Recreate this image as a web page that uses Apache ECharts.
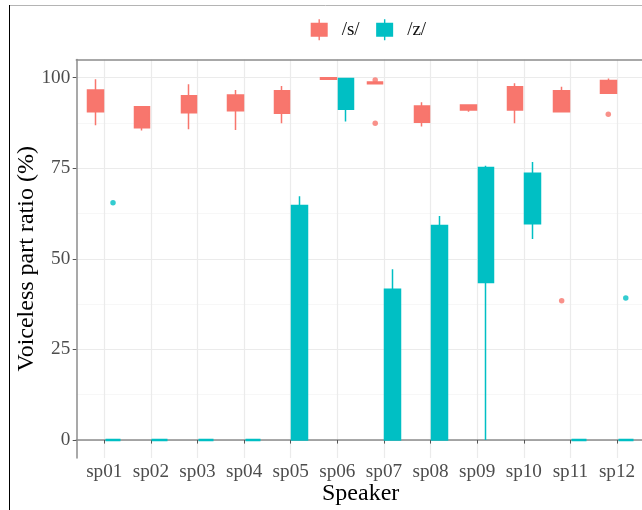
<!DOCTYPE html>
<html>
<head>
<meta charset="utf-8">
<script src="https://cdn.jsdelivr.net/npm/echarts@6/dist/echarts.min.js"></script>
<style>html,body{margin:0;padding:0;background:#fff;}#chart{width:642px;height:510px;}</style>
</head>
<body>
<div id="chart"></div>
<script>
// ---- data ----
const categories = ['sp01','sp02','sp03','sp04','sp05','sp06','sp07','sp08','sp09','sp10','sp11','sp12'];
const yTicks = [0, 25, 50, 75, 100];
const yMinorTicks = [12.5, 37.5, 62.5, 87.5];

// /s/ : lower whisker, Q1, Q3, upper whisker
const sLow  = [86.9, 85.4, 85.8, 85.6, 87.4, 99.5, 98.2, 86.5, 90.6, 87.4, 90.6, 95.7];
const sQ1   = [90.6, 86.2, 90.3, 90.9, 90.2, 99.6, 98.3, 87.7, 91.1, 91.1, 90.6, 95.7];
const sQ3   = [96.6, 92.0, 95.0, 95.2, 96.4, 100.0, 98.8, 92.2, 92.5, 97.5, 96.4, 99.2];
const sHigh = [99.6, 92.2, 98.2, 96.6, 97.7, 100.0, 98.9, 93.2, 92.7, 98.5, 97.5, 99.8];
const sOutliers = [['sp07', 87.4], ['sp07', 99.4], ['sp11', 38.4], ['sp12', 89.9]];

// /z/
const zLow  = [0, 0, 0, 0, 0, 87.9, 0, 0, 0, 55.5, 0, 0];
const zQ1   = [0, 0, 0, 0, 0, 91.3, 0, 0, 43.5, 59.7, 0, 0];
const zQ3   = [0, 0, 0, 0, 64.7, 99.8, 41.6, 59.2, 75.2, 73.6, 0, 0];
const zHigh = [0, 0, 0, 0, 67.3, 99.8, 47.1, 61.8, 75.7, 76.7, 0, 0];
const zOutliers = [['sp01', 65.5], ['sp12', 39.2]];

// ---- build ----
const DODGE = 0.1875;           // ggplot position_dodge(0.75) / 4
const RED = '#F8766D', TEAL = '#00BFC4';
const FONT = '"Liberation Serif", "Times New Roman", serif';

function boxes(low, q1, q3, high, shift, color) {
  return categories.map((c, i) => {
    const item = { value: [i + 1 + shift, q1[i], q3[i], low[i], high[i]] };
    if (q1[i] === q3[i]) {
      item.itemStyle = { borderWidth: 2.5, borderColor: color, borderColor0: color, borderColorDoji: color };
    }
    return item;
  });
}
function outs(list, shift) {
  return list.map(([c, v]) => [categories.indexOf(c) + 1 + shift, v]);
}
function candle(name, color, data) {
  return {
    type: 'candlestick', name: name, xAxisIndex: 0, yAxisIndex: 0,
    data: data, barWidth: 16,
    itemStyle: { color: color, color0: color, borderColor: color, borderColor0: color,
                 borderColorDoji: color, borderWidth: 1.5 },
    emphasis: { disabled: true }
  };
}
function scat(name, color, data) {
  return { type: 'scatter', name: name, xAxisIndex: 0, yAxisIndex: 0, data: data,
           symbolSize: 5.5, itemStyle: { color: color }, emphasis: { disabled: true } };
}

const chart = echarts.init(document.getElementById('chart'), null, { renderer: 'canvas' });
const gridColor = '#EBEBEB', axisGray = '#8c8c8c';
chart.setOption({
  animation: false,
  backgroundColor: '#fff',
  textStyle: { fontFamily: FONT },
  legend: {
    data: ['/s/', '/z/'], left: 310.7, top: 19.3, padding: 0,
    itemWidth: 17, itemHeight: 21, itemGap: 16.5,
    icon: 'path://M0,3.5H17V17.5H0Z M7.8,0H9.2V21H7.8Z',
    itemStyle: { borderWidth: 0 },
    textStyle: { fontFamily: FONT, fontSize: 19, color: '#111', padding: [0, 0, 0, 9] }
  },
  grid: { left: 76.3, top: 59.6, width: 568.7, height: 398.5, containLabel: false, outerBoundsMode: 'none' },
  xAxis: [{
    type: 'value', min: 0.4, max: 12.6, position: 'bottom',
    axisLine: { show: true, lineStyle: { color: axisGray, width: 1.5 } },
    axisTick: { show: true, length: 3.6, customValues: categories.map((c, i) => i + 1), lineStyle: { color: '#555', width: 1 } },
    axisLabel: { show: true, customValues: categories.map((c, i) => i + 1), margin: 4,
                 formatter: v => categories[Math.round(v) - 1] || '',
                 fontFamily: FONT, fontSize: 19.2, color: '#4D4D4D' },
    splitLine: { show: true, lineStyle: { color: gridColor, width: 1.2 } },
    name: 'Speaker', nameLocation: 'middle', nameGap: 24, nameMoveOverlap: false,
    nameTextStyle: { fontFamily: FONT, fontSize: 24, color: '#000' }
  }, {
    type: 'value', min: 0.4, max: 12.6, position: 'top',
    axisLine: { show: true, onZero: false, lineStyle: { color: axisGray, width: 1.5 } },
    axisTick: { show: false }, axisLabel: { show: false }, splitLine: { show: false }
  }],
  yAxis: [{
    type: 'value', min: -5, max: 105, position: 'left',
    axisLine: { show: true, onZero: false, lineStyle: { color: axisGray, width: 1.5 } },
    axisTick: { show: true, length: 3.6, customValues: yTicks, lineStyle: { color: '#555', width: 1 } },
    axisLabel: { show: true, customValues: yTicks, margin: 6, fontFamily: FONT, fontSize: 19.2, color: '#4D4D4D' },
    splitLine: { show: true, lineStyle: { color: gridColor, width: 1.2 } },
    name: 'Voiceless part ratio (%)', nameLocation: 'middle', nameGap: 38, nameMoveOverlap: false,
    nameTextStyle: { fontFamily: FONT, fontSize: 24, color: '#000' }
  }, {
    type: 'value', min: -5, max: 105, position: 'left',
    axisLine: { show: false }, axisLabel: { show: false },
    axisTick: { show: false, customValues: yMinorTicks },
    splitLine: { show: true, lineStyle: { color: '#F5F5F5', width: 0.8 } }
  }],
  series: [
    candle('/s/', RED, boxes(sLow, sQ1, sQ3, sHigh, -DODGE, RED)),
    candle('/z/', TEAL, boxes(zLow, zQ1, zQ3, zHigh, DODGE, TEAL)),
    scat('/s/ outliers', RED, outs(sOutliers, -DODGE)),
    scat('/z/ outliers', TEAL, outs(zOutliers, DODGE))
  ],
  graphic: [
    { type: 'line', silent: true, shape: { x1: 9, y1: 5.5, x2: 642, y2: 5.5 }, style: { stroke: '#b4b4b4', lineWidth: 1 } },
    { type: 'line', silent: true, shape: { x1: 9.5, y1: 5, x2: 9.5, y2: 510 }, style: { stroke: '#000', lineWidth: 1 } }
  ]
});
</script>
</body>
</html>
